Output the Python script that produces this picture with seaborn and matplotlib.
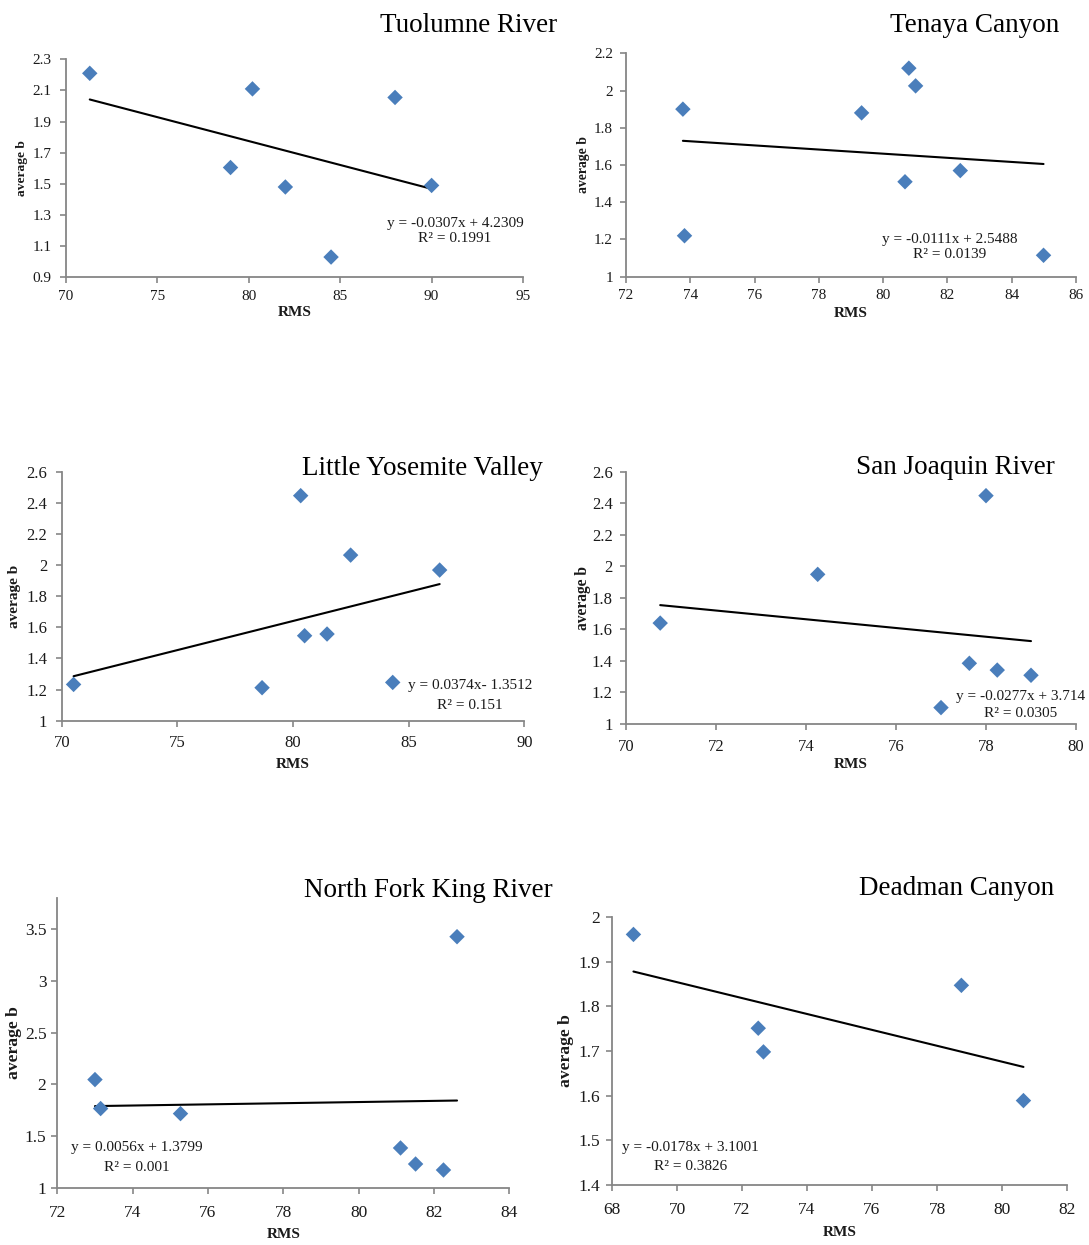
import numpy as np
import pandas as pd
import matplotlib
matplotlib.use("Agg")
import matplotlib.pyplot as plt
import seaborn as sns

sns.set_theme(style="white")
plt.rcParams["font.family"] = ["Liberation Serif", "DejaVu Serif"]

# ---------------- data ----------------
titles = ["Tuolumne River", "Tenaya Canyon", "Little Yosemite Valley",
          "San Joaquin River", "North Fork King River", "Deadman Canyon"]

tuolumne_rms = [71.3, 80.2, 88.0, 79.0, 82.0, 84.5, 90.0]
tuolumne_b = [2.21, 2.11, 2.055, 1.605, 1.48, 1.03, 1.49]

tenaya_rms = [73.77, 73.82, 79.33, 80.80, 81.01, 80.68, 82.40, 84.99]
tenaya_b = [1.90, 1.22, 1.88, 2.12, 2.025, 1.51, 1.57, 1.115]

lyv_rms = [70.51, 78.66, 80.33, 80.50, 81.47, 82.49, 84.31, 86.34]
lyv_b = [1.233, 1.212, 2.446, 1.546, 1.557, 2.064, 1.246, 1.968]

sjr_rms = [70.76, 74.26, 77.0, 77.63, 78.0, 78.25, 79.0]
sjr_b = [1.64, 1.949, 1.104, 1.385, 2.448, 1.342, 1.309]

nfkr_rms = [73.0, 73.15, 75.27, 81.11, 81.51, 82.25, 82.61]
nfkr_b = [2.045, 1.765, 1.716, 1.384, 1.229, 1.171, 3.426]

deadman_rms = [68.66, 72.5, 72.66, 78.75, 80.66]
deadman_b = [1.961, 1.751, 1.698, 1.847, 1.589]

slopes = [-0.0307, -0.0111, 0.0374, -0.0277, 0.0056, -0.0178]
intercepts = [4.2309, 2.5488, -1.3512, 3.714, 1.3799, 3.1001]
eq_labels = ["y = -0.0307x + 4.2309", "y = -0.0111x + 2.5488", "y = 0.0374x- 1.3512",
             "y = -0.0277x + 3.714", "y = 0.0056x + 1.3799", "y = -0.0178x + 3.1001"]
r2_labels = ["R² = 0.1991", "R² = 0.0139", "R² = 0.151",
             "R² = 0.0305", "R² = 0.001", "R² = 0.3826"]

xticks_list = [[70, 75, 80, 85, 90, 95],
               [72, 74, 76, 78, 80, 82, 84, 86],
               [70, 75, 80, 85, 90],
               [70, 72, 74, 76, 78, 80],
               [72, 74, 76, 78, 80, 82, 84],
               [68, 70, 72, 74, 76, 78, 80, 82]]
yticks_list = [[0.9, 1.1, 1.3, 1.5, 1.7, 1.9, 2.1, 2.3],
               [1, 1.2, 1.4, 1.6, 1.8, 2, 2.2],
               [1, 1.2, 1.4, 1.6, 1.8, 2, 2.2, 2.4, 2.6],
               [1, 1.2, 1.4, 1.6, 1.8, 2, 2.2, 2.4, 2.6],
               [1, 1.5, 2, 2.5, 3, 3.5],
               [1.4, 1.5, 1.6, 1.7, 1.8, 1.9, 2]]
ylims = [(0.9, 2.3), (1, 2.2), (1, 2.6), (1, 2.6), (1, 3.8), (1.4, 2)]

xs_all = [tuolumne_rms, tenaya_rms, lyv_rms, sjr_rms, nfkr_rms, deadman_rms]
ys_all = [tuolumne_b, tenaya_b, lyv_b, sjr_b, nfkr_b, deadman_b]

# ---------------- layout (pixels) ----------------
W, H = 1089, 1245
# left, right, top, bottom
rects = [(66, 523, 59.3, 277.3), (626, 1076, 53.3, 276.7),
         (61.8, 524.3, 471.7, 720.7), (626, 1076, 471.7, 724),
         (57.3, 509.4, 898, 1187.7), (612, 1067, 917, 1185)]
ylabel_x = [21.5, 584, 14.6, 583, 14, 566]
xlabel_y = [313, 313, 765, 764, 1235, 1232.7]
title_pos = [(557, 32), (1059, 32), (543, 475), (1055, 474), (553, 897), (1054, 895)]
eq_pos = [(455, 223.3, 238.3), (949.5, 240, 255), (470, 685, 705),
          (1021, 696, 713.3), (137, 1147.7, 1167.7), (690.5, 1147.3, 1166.7)]
tick_fs = [11, 11, 12, 12, 12.5, 12.5]
ylab_fs = [9.7, 9.9, 11, 11.2, 12.6, 12.6]
xpad = [5, 5, 6.5, 6.5, 8.5, 8.5]
ypad = [6.5, 5.4, 6.5, 5.5, 3.8, 4.3]

gray = "#868686"
blue = "#4A7EBB"

fig = plt.figure(figsize=(W / 100, H / 100), dpi=100)

for i in range(6):
    L, R, T, B = rects[i]
    ax = fig.add_axes([L / W, 1 - B / H, (R - L) / W, (B - T) / H])
    df = pd.DataFrame({"RMS": xs_all[i], "b": ys_all[i]})
    sns.scatterplot(data=df, x="RMS", y="b", ax=ax, marker="D", s=62,
                    color=blue, edgecolor="none", linewidth=0, zorder=3)
    xr = np.array([df["RMS"].min(), df["RMS"].max()])
    yr = slopes[i] * xr + intercepts[i]
    sns.lineplot(x=xr, y=yr, ax=ax, color="black", linewidth=1.5, zorder=2)

    xt = xticks_list[i]
    yt = yticks_list[i]
    ax.set_xlim(xt[0], xt[-1])
    ax.set_ylim(*ylims[i])
    ax.set_xticks(xt)
    ax.set_xticklabels([f"{v:g}" for v in xt])
    ax.set_yticks(yt)
    ax.set_yticklabels([f"{v:g}" for v in yt])

    for s in ["top", "right"]:
        ax.spines[s].set_visible(False)
    for s in ["left", "bottom"]:
        ax.spines[s].set_color(gray)
        ax.spines[s].set_linewidth(1.3)
    ax.tick_params(axis="both", direction="out", length=4, width=1.2,
                   color=gray, labelsize=tick_fs[i], labelcolor="#1a1a1a",
                   bottom=True, left=True)
    ax.tick_params(axis="x", pad=xpad[i])
    ax.tick_params(axis="y", pad=ypad[i])

    ax.set_xlabel("RMS", fontsize=11, fontweight="bold", va="center", color="#1a1a1a")
    ax.set_ylabel("average b", fontsize=ylab_fs[i], fontweight="bold", va="center",
                  color="#1a1a1a")
    ax.xaxis.set_label_coords(0.5, -(xlabel_y[i] - B) / (B - T))
    ax.yaxis.set_label_coords((ylabel_x[i] - L) / (R - L), 0.5)

    tx, ty = title_pos[i]
    fig.text(tx / W, 1 - ty / H, titles[i], ha="right", va="baseline",
             fontsize=19.5, color="black")

    ex, ey1, ey2 = eq_pos[i]
    fig.text(ex / W, 1 - ey1 / H, eq_labels[i], ha="center", va="center",
             fontsize=11, color="#1a1a1a")
    fig.text(ex / W, 1 - ey2 / H, r2_labels[i], ha="center", va="center",
             fontsize=11, color="#1a1a1a")

fig.savefig("out.png", dpi=100, facecolor="white")
